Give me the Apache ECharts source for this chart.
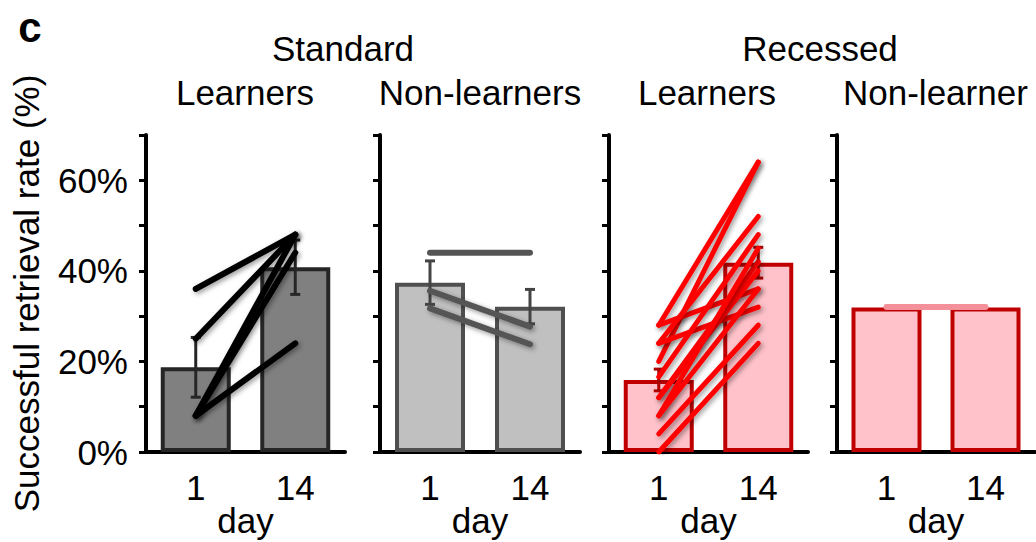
<!DOCTYPE html>
<html>
<head>
<meta charset="utf-8">
<script src="https://cdn.jsdelivr.net/npm/echarts@6/dist/echarts.min.js"></script>
<style>
  html, body { margin: 0; padding: 0; background: #fff; }
  #chart { width: 1036px; height: 542px; }
</style>
</head>
<body>
<div id="chart"></div>
<script>
// Retrieval rate on day 1 vs day 14, per group (values in %)
const days = ['1', '14'];

// Standard, learners
const stdLearnMeans = [18.7, 40.8];
const stdLearnErr = [6.6, 6.0];
const stdLearnLines = [[36, 48], [25, 48], [8, 48], [8, 44], [8, 24]];

// Standard, non-learners
const stdNonMeans = [37.4, 32.1];
const stdNonErr = [4.8, 3.8];
const stdNonLines = [[44, 44], [35.6, 27.7], [31.7, 23.8]];

// Recessed, learners
const recLearnMeans = [15.9, 41.8];
const recLearnErr = [2.4, 3.4];
const recLearnLines = [
  [28, 64], [20, 64], [28, 36], [24, 52], [24, 32], [16.6, 48],
  [12, 42], [12, 40], [8, 45], [8, 36], [4, 28], [0, 24]
];

// Recessed, non-learner
const recNonMeans = [31.9, 31.9];
const recNonErr = [0, 0];
const recNonLines = [[32, 32]];

const FONT = '"Liberation Sans", Arial, sans-serif';
const FS = 35;

const grids = [
  { left: 146, top: 135, width: 199, height: 317, outerBoundsMode: 'none' },
  { left: 380, top: 135, width: 200, height: 317, outerBoundsMode: 'none' },
  { left: 609, top: 135, width: 199, height: 317, outerBoundsMode: 'none' },
  { left: 837, top: 135, width: 198, height: 317, outerBoundsMode: 'none' }
];

const panelStyles = [
  { fill: '#808080', border: '#262626', err: '#262626', line: '#000000', lw: 6 },
  { fill: '#c0c0c0', border: '#4f4f4f', err: '#444444', line: '#555555', lw: 6 },
  { fill: '#ffc2ca', border: '#c00000', err: '#b00000', line: '#ff0000', lw: 5 },
  { fill: '#ffc2ca', border: '#c00000', err: '#b00000', line: '#f4909a', lw: 6 }
];

const panelMeans = [stdLearnMeans, stdNonMeans, recLearnMeans, recNonMeans];
const panelErrs = [stdLearnErr, stdNonErr, recLearnErr, recNonErr];
const panelLines = [stdLearnLines, stdNonLines, recLearnLines, recNonLines];

const xAxes = grids.map((g, i) => ({
  type: 'category',
  gridIndex: i,
  data: days,
  axisLine: { lineStyle: { color: '#000', width: 4 } },
  axisTick: { show: false },
  axisLabel: { color: '#000', fontSize: FS, fontFamily: FONT, margin: 18 },
  name: 'day',
  nameLocation: 'middle',
  nameGap: 51,
  nameMoveOverlap: false,
  nameTextStyle: { color: '#000', fontSize: FS, fontFamily: FONT }
}));

const yAxes = grids.map((g, i) => ({
  type: 'value',
  gridIndex: i,
  min: 0,
  max: 70,
  interval: 10,
  splitLine: { show: false },
  axisLine: { show: true, lineStyle: { color: '#000', width: 4 } },
  axisTick: { show: true, inside: false, length: 7, lineStyle: { color: '#000', width: 3 } },
  axisLabel: {
    show: i === 0,
    color: '#000',
    fontSize: FS,
    fontFamily: FONT,
    margin: 18,
    formatter: v => (v % 20 === 0 && v <= 60 ? v + '%' : '')
  },
  name: i === 0 ? 'Successful retrieval rate (%)' : '',
  nameLocation: 'middle',
  nameRotate: 90,
  nameGap: 102,
  nameMoveOverlap: false,
  nameTextStyle: { color: '#000', fontSize: FS, fontFamily: FONT }
}));

function errorBarRenderer(color) {
  return function (params, api) {
    const x = api.value(0), m = api.value(1), e = api.value(2);
    if (!e) return null;
    const top = api.coord([x, m + e]);
    const bot = api.coord([x, m - e]);
    const half = 5;
    const st = { stroke: color, lineWidth: 3 };
    return {
      type: 'group',
      children: [
        { type: 'line', shape: { x1: top[0], y1: top[1], x2: bot[0], y2: bot[1] }, style: st },
        { type: 'line', shape: { x1: top[0] - half, y1: top[1], x2: top[0] + half, y2: top[1] }, style: st },
        { type: 'line', shape: { x1: bot[0] - half, y1: bot[1], x2: bot[0] + half, y2: bot[1] }, style: st }
      ]
    };
  };
}

const series = [];
grids.forEach((g, i) => {
  const s = panelStyles[i];
  series.push({
    type: 'bar',
    xAxisIndex: i,
    yAxisIndex: i,
    data: panelMeans[i],
    barWidth: 70,
    itemStyle: { color: s.fill, borderColor: s.border, borderWidth: 4 },
    z: 2
  });
  series.push({
    type: 'custom',
    xAxisIndex: i,
    yAxisIndex: i,
    data: panelMeans[i].map((m, k) => [k, m, panelErrs[i][k]]),
    encode: { x: 0, y: 1 },
    renderItem: errorBarRenderer(s.err),
    z: 3
  });
  panelLines[i].forEach(pair => {
    // a flat stroke has a zero-height box, so it gets no drop shadow
    const flat = pair[0] === pair[1];
    series.push({
      type: 'line',
      xAxisIndex: i,
      yAxisIndex: i,
      data: pair,
      showSymbol: false,
      symbol: 'none',
      lineStyle: flat ? {
        color: s.line,
        width: s.lw,
        cap: 'round'
      } : {
        color: s.line,
        width: s.lw,
        cap: 'round',
        shadowColor: 'rgba(0,0,0,0.4)',
        shadowBlur: 5,
        shadowOffsetX: 2,
        shadowOffsetY: 2
      },
      z: 4
    });
  });
});

function label(text, x, y, align, extra) {
  return {
    type: 'text',
    x: x,
    y: y,
    style: Object.assign({
      text: text,
      fill: '#000',
      font: FS + 'px ' + FONT,
      textAlign: align,
      textVerticalAlign: 'middle'
    }, extra || {})
  };
}

const chart = echarts.init(document.getElementById('chart'), null, { renderer: 'svg' });
chart.setOption({
  animation: false,
  backgroundColor: '#fff',
  grid: grids,
  xAxis: xAxes,
  yAxis: yAxes,
  series: series,
  graphic: [
    label('c', 30, 27, 'center', { font: 'bold 42px ' + FONT }),
    label('Standard', 343, 48, 'center'),
    label('Recessed', 820, 48, 'center'),
    label('Learners', 245, 92, 'center'),
    label('Non-learners', 480, 92, 'center'),
    label('Learners', 707, 92, 'center'),
    label('Non-learner', 843, 92, 'left')
  ]
});
</script>
</body>
</html>
